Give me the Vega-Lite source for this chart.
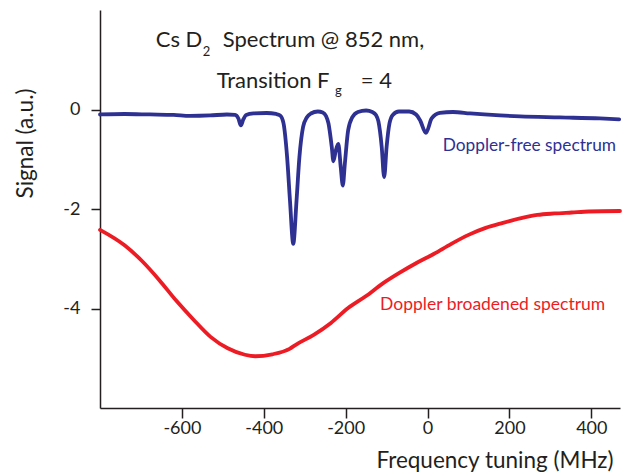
{
  "$schema": "https://vega.github.io/schema/vega-lite/v6.json",
  "width": 520,
  "height": 398,
  "autosize": {"type": "none"},
  "padding": {"left": 100, "top": 10, "right": 9, "bottom": 67},
  "background": "white",
  "config": {"font": "Lato", "view": {"stroke": null}},
  "datasets": {
    "spectra": [
      {"series": "Doppler-free", "f": -800, "s": -0.10},
      {"series": "Doppler-free", "f": -740, "s": -0.09},
      {"series": "Doppler-free", "f": -678, "s": -0.10},
      {"series": "Doppler-free", "f": -620, "s": -0.11},
      {"series": "Doppler-free", "f": -580, "s": -0.13},
      {"series": "Doppler-free", "f": -531, "s": -0.12},
      {"series": "Doppler-free", "f": -490, "s": -0.10},
      {"series": "Doppler-free", "f": -470, "s": -0.11},
      {"series": "Doppler-free", "f": -462, "s": -0.18},
      {"series": "Doppler-free", "f": -456, "s": -0.32},
      {"series": "Doppler-free", "f": -450, "s": -0.20},
      {"series": "Doppler-free", "f": -443, "s": -0.11},
      {"series": "Doppler-free", "f": -425, "s": -0.08},
      {"series": "Doppler-free", "f": -393, "s": -0.07},
      {"series": "Doppler-free", "f": -370, "s": -0.09},
      {"series": "Doppler-free", "f": -360, "s": -0.12},
      {"series": "Doppler-free", "f": -352, "s": -0.27},
      {"series": "Doppler-free", "f": -343, "s": -0.96},
      {"series": "Doppler-free", "f": -336, "s": -1.83},
      {"series": "Doppler-free", "f": -328, "s": -2.70},
      {"series": "Doppler-free", "f": -320, "s": -1.83},
      {"series": "Doppler-free", "f": -313, "s": -0.96},
      {"series": "Doppler-free", "f": -304, "s": -0.35},
      {"series": "Doppler-free", "f": -295, "s": -0.16},
      {"series": "Doppler-free", "f": -285, "s": -0.08},
      {"series": "Doppler-free", "f": -268, "s": -0.04},
      {"series": "Doppler-free", "f": -256, "s": -0.06},
      {"series": "Doppler-free", "f": -248, "s": -0.13},
      {"series": "Doppler-free", "f": -242, "s": -0.28},
      {"series": "Doppler-free", "f": -234, "s": -0.75},
      {"series": "Doppler-free", "f": -230, "s": -1.04},
      {"series": "Doppler-free", "f": -224, "s": -0.82},
      {"series": "Doppler-free", "f": -218, "s": -0.69},
      {"series": "Doppler-free", "f": -212, "s": -1.16},
      {"series": "Doppler-free", "f": -207, "s": -1.53},
      {"series": "Doppler-free", "f": -202, "s": -1.09},
      {"series": "Doppler-free", "f": -194, "s": -0.42},
      {"series": "Doppler-free", "f": -184, "s": -0.16},
      {"series": "Doppler-free", "f": -170, "s": -0.05},
      {"series": "Doppler-free", "f": -150, "s": -0.02},
      {"series": "Doppler-free", "f": -135, "s": -0.05},
      {"series": "Doppler-free", "f": -126, "s": -0.11},
      {"series": "Doppler-free", "f": -120, "s": -0.24},
      {"series": "Doppler-free", "f": -112, "s": -0.75},
      {"series": "Doppler-free", "f": -106, "s": -1.36},
      {"series": "Doppler-free", "f": -100, "s": -0.75},
      {"series": "Doppler-free", "f": -93, "s": -0.28},
      {"series": "Doppler-free", "f": -85, "s": -0.11},
      {"series": "Doppler-free", "f": -70, "s": -0.04},
      {"series": "Doppler-free", "f": -45, "s": -0.04},
      {"series": "Doppler-free", "f": -28, "s": -0.10},
      {"series": "Doppler-free", "f": -18, "s": -0.22},
      {"series": "Doppler-free", "f": -4, "s": -0.47},
      {"series": "Doppler-free", "f": 10, "s": -0.18},
      {"series": "Doppler-free", "f": 30, "s": -0.07},
      {"series": "Doppler-free", "f": 62, "s": -0.05},
      {"series": "Doppler-free", "f": 104, "s": -0.08},
      {"series": "Doppler-free", "f": 177, "s": -0.12},
      {"series": "Doppler-free", "f": 226, "s": -0.14},
      {"series": "Doppler-free", "f": 323, "s": -0.16},
      {"series": "Doppler-free", "f": 421, "s": -0.18},
      {"series": "Doppler-free", "f": 468, "s": -0.20},
      {"series": "Doppler broadened", "f": -800, "s": -2.42},
      {"series": "Doppler broadened", "f": -740, "s": -2.73},
      {"series": "Doppler broadened", "f": -698, "s": -3.04},
      {"series": "Doppler broadened", "f": -656, "s": -3.42},
      {"series": "Doppler broadened", "f": -614, "s": -3.84},
      {"series": "Doppler broadened", "f": -572, "s": -4.22},
      {"series": "Doppler broadened", "f": -530, "s": -4.57},
      {"series": "Doppler broadened", "f": -488, "s": -4.80},
      {"series": "Doppler broadened", "f": -446, "s": -4.93},
      {"series": "Doppler broadened", "f": -421, "s": -4.96},
      {"series": "Doppler broadened", "f": -379, "s": -4.92},
      {"series": "Doppler broadened", "f": -337, "s": -4.81},
      {"series": "Doppler broadened", "f": -320, "s": -4.72},
      {"series": "Doppler broadened", "f": -278, "s": -4.53},
      {"series": "Doppler broadened", "f": -236, "s": -4.29},
      {"series": "Doppler broadened", "f": -194, "s": -3.99},
      {"series": "Doppler broadened", "f": -152, "s": -3.76},
      {"series": "Doppler broadened", "f": -110, "s": -3.50},
      {"series": "Doppler broadened", "f": -68, "s": -3.28},
      {"series": "Doppler broadened", "f": -26, "s": -3.08},
      {"series": "Doppler broadened", "f": 16, "s": -2.90},
      {"series": "Doppler broadened", "f": 58, "s": -2.70},
      {"series": "Doppler broadened", "f": 100, "s": -2.52},
      {"series": "Doppler broadened", "f": 142, "s": -2.38},
      {"series": "Doppler broadened", "f": 184, "s": -2.28},
      {"series": "Doppler broadened", "f": 226, "s": -2.19},
      {"series": "Doppler broadened", "f": 268, "s": -2.12},
      {"series": "Doppler broadened", "f": 310, "s": -2.09},
      {"series": "Doppler broadened", "f": 352, "s": -2.07},
      {"series": "Doppler broadened", "f": 394, "s": -2.05},
      {"series": "Doppler broadened", "f": 470, "s": -2.04}
    ]
  },
  "layer": [
    {
      "data": {"name": "spectra"},
      "mark": {"type": "line", "strokeWidth": 3.8, "interpolate": "monotone", "strokeCap": "round", "strokeJoin": "round"},
      "encoding": {
        "x": {
          "field": "f", "type": "quantitative",
          "scale": {"domain": [-800, 470], "nice": false, "zero": false},
          "axis": {
            "values": [-600, -400, -200, 0, 200, 400],
            "labelExpr": "replace(datum.label, '\u2212', '-')",
            "grid": false, "tickSize": 10, "tickWidth": 1.5, "tickColor": "#231f20",
            "domainColor": "#231f20", "domainWidth": 1.5,
            "labelFontSize": 18, "labelColor": "#231f20", "labelPadding": 1,
            "title": "Frequency tuning (MHz)", "titleFontSize": 22.5, "titleFontWeight": "normal",
            "titleColor": "#231f20", "titleX": 513, "titleY": 59.5, "titleAlign": "right",
            "titleBaseline": "alphabetic"
          }
        },
        "y": {
          "field": "s", "type": "quantitative",
          "scale": {"domain": [-6, 2], "nice": false, "zero": false},
          "axis": {
            "values": [-4, -2, 0],
            "labelExpr": "replace(datum.label, '\u2212', '-')",
            "grid": false, "tickSize": 9, "tickWidth": 1.5, "tickColor": "#231f20",
            "domainColor": "#231f20", "domainWidth": 1.5,
            "labelFontSize": 18, "labelColor": "#231f20", "labelPadding": 11,
            "title": "Signal (a.u.)", "titleFontSize": 22.5, "titleFontWeight": "normal",
            "titleColor": "#231f20", "titleX": -68, "titleY": 133, "titleAlign": "center",
            "titleBaseline": "alphabetic", "titleAngle": -90
          }
        },
        "color": {
          "field": "series", "type": "nominal",
          "scale": {"domain": ["Doppler-free", "Doppler broadened"], "range": ["#2e3192", "#ed1c24"]},
          "legend": null
        },
        "detail": {"field": "series"}
      }
    },
    {
      "data": {"values": [{"label": "Cs D"}]},
      "mark": {"type": "text", "align": "left", "baseline": "alphabetic", "fontSize": 22, "color": "#231f20"},
      "encoding": {"x": {"datum": -664}, "y": {"datum": 1.25}, "text": {"field": "label"}}
    },
    {
      "data": {"values": [{"label": "2"}]},
      "mark": {"type": "text", "align": "left", "baseline": "alphabetic", "fontSize": 13, "color": "#231f20"},
      "encoding": {"x": {"datum": -549}, "y": {"datum": 1.075}, "text": {"field": "label"}}
    },
    {
      "data": {"values": [{"label": "Spectrum @ 852 nm,"}]},
      "mark": {"type": "text", "align": "left", "baseline": "alphabetic", "fontSize": 22, "color": "#231f20"},
      "encoding": {"x": {"datum": -500}, "y": {"datum": 1.25}, "text": {"field": "label"}}
    },
    {
      "data": {"values": [{"label": "Transition F"}]},
      "mark": {"type": "text", "align": "left", "baseline": "alphabetic", "fontSize": 22, "color": "#231f20"},
      "encoding": {"x": {"datum": -515}, "y": {"datum": 0.428}, "text": {"field": "label"}}
    },
    {
      "data": {"values": [{"label": "g"}]},
      "mark": {"type": "text", "align": "left", "baseline": "alphabetic", "fontSize": 13, "color": "#231f20"},
      "encoding": {"x": {"datum": -226}, "y": {"datum": 0.29}, "text": {"field": "label"}}
    },
    {
      "data": {"values": [{"label": "= 4"}]},
      "mark": {"type": "text", "align": "left", "baseline": "alphabetic", "fontSize": 22, "color": "#231f20"},
      "encoding": {"x": {"datum": -163}, "y": {"datum": 0.428}, "text": {"field": "label"}}
    },
    {
      "data": {"values": [{"label": "Doppler-free spectrum"}]},
      "mark": {"type": "text", "align": "left", "baseline": "alphabetic", "fontSize": 17.3, "color": "#2e3192"},
      "encoding": {"x": {"datum": 37}, "y": {"datum": -0.834}, "text": {"field": "label"}}
    },
    {
      "data": {"values": [{"label": "Doppler broadened spectrum"}]},
      "mark": {"type": "text", "align": "left", "baseline": "alphabetic", "fontSize": 17.5, "color": "#ed1c24"},
      "encoding": {"x": {"datum": -116}, "y": {"datum": -4.03}, "text": {"field": "label"}}
    }
  ]
}
